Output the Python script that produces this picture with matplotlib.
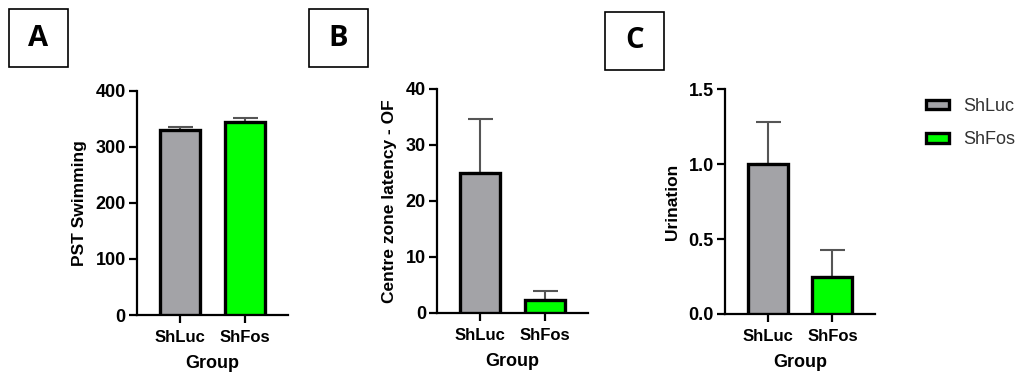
import matplotlib.pyplot as plt
from matplotlib.patches import Rectangle, Patch

plt.rcParams['font.family'] = ['Liberation Sans', 'DejaVu Sans']

groups = ['ShLuc', 'ShFos']
colors = ['#a3a3a7', '#00ff00']

swim = [330, 345]
swim_err = [6, 6]
latency = [25, 2.3]
latency_err = [9.7, 1.5]
urination = [1.0, 0.245]
urination_err = [0.285, 0.185]

panels = [
    ('A', swim, swim_err, 'PST Swimming', [0, 100, 200, 300, 400], 400, '{:.0f}',
     [0.1344, 0.1622, 0.1482, 0.5965], (9, 9, 68, 67)),
    ('B', latency, latency_err, 'Centre zone latency - OF', [0, 10, 20, 30, 40], 40, '{:.0f}',
     [0.4289, 0.1684, 0.1482, 0.5950], (309, 9, 368, 67)),
    ('C', urination, urination_err, 'Urination', [0, 0.5, 1.0, 1.5], 1.5, '{:.1f}',
     [0.7115, 0.1649, 0.1472, 0.5976], (605, 12, 664, 70)),
]

W, H = 1019, 376
fig = plt.figure(figsize=(W / 100, H / 100), dpi=100)

for letter, vals, errs, ylabel, ticks, ymax, fmt, pos, box in panels:
    ax = fig.add_axes(pos)
    x = range(len(groups))
    ax.bar(x, vals, width=0.62, color=colors, edgecolor='black', linewidth=2.4, zorder=3)
    ax.errorbar(x, vals, yerr=[[0] * len(errs), errs], fmt='none', ecolor='#555555',
                elinewidth=1.5, capsize=9, capthick=1.5, zorder=2)
    ax.set_xlim(-0.66, 1.66)
    ax.set_ylim(0, ymax)
    ax.set_yticks(ticks)
    ax.set_yticklabels([fmt.format(t) for t in ticks])
    ax.set_xticks(list(x))
    ax.set_xticklabels(groups)
    for s in ['top', 'right']:
        ax.spines[s].set_visible(False)
    for s in ['left', 'bottom']:
        ax.spines[s].set_linewidth(1.6)
    ax.tick_params(width=1.6, length=6, colors='black')
    ax.tick_params(axis='y', labelsize=13, pad=2)
    ax.tick_params(axis='x', labelsize=12, pad=5)
    for lab in ax.get_xticklabels() + ax.get_yticklabels():
        lab.set_fontweight('bold')
    ax.set_ylabel(ylabel, fontsize=12.5, fontweight='bold', labelpad=6)
    ax.set_xlabel('Group', fontsize=13, fontweight='bold', labelpad=7)

    x0, y0, x1, y1 = box
    fig.add_artist(Rectangle((x0 / W, 1 - y1 / H), (x1 - x0) / W, (y1 - y0) / H,
                             transform=fig.transFigure, fill=False,
                             edgecolor='black', linewidth=1.2))
    fig.text((x0 + x1) / 2 / W, 1 - (y0 + y1) / 2 / H, letter, ha='center', va='center',
             fontsize=21, fontweight='bold', family=['Open Sans', 'DejaVu Sans'])

handles = [Patch(facecolor=c, edgecolor='black', linewidth=2.4) for c in colors]
fig.legend(handles, groups, loc='upper left', bbox_to_anchor=(0.893, 0.783),
           frameon=False, fontsize=13, handlelength=1.25, handleheight=0.45,
           labelspacing=0.9, handletextpad=0.8, labelcolor='#333333')

fig.savefig('out.png', dpi=100)
